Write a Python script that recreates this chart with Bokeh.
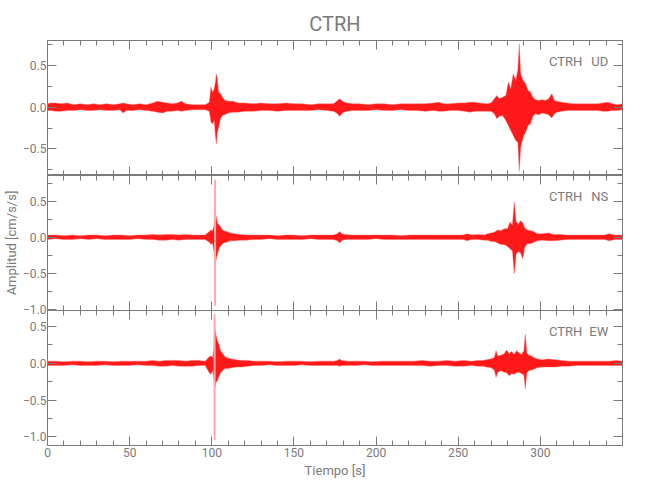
from bokeh.plotting import figure
from bokeh.layouts import column
from bokeh.models import LinearAxis, FixedTicker, Label, Range1d, ColumnDataSource
from bokeh.embed import file_html
from bokeh.resources import INLINE

# ---------------- data (envelopes) ----------------
# rows: (time [s], upper envelope, lower envelope)  amplitude in cm/s/s
ud_rows = [
    (0, 0.04, -0.04), (2, 0.05, -0.04), (5, 0.05, -0.05), (8, 0.04, -0.05), (12, 0.05, -0.04),
    (16, 0.03, -0.04), (20, 0.04, -0.03), (24, 0.03, -0.04), (28, 0.04, -0.04), (32, 0.03, -0.03),
    (36, 0.04, -0.04), (40, 0.03, -0.04), (44, 0.04, -0.03), (46, 0.05, -0.07), (48, 0.04, -0.04),
    (52, 0.03, -0.04), (56, 0.04, -0.03), (60, 0.03, -0.04), (64, 0.05, -0.05), (67, 0.07, -0.06),
    (70, 0.06, -0.07), (73, 0.05, -0.05), (76, 0.04, -0.05), (79, 0.05, -0.04), (81.5, 0.07, -0.05),
    (84, 0.04, -0.04), (88, 0.03, -0.03), (92, 0.03, -0.03), (96, 0.03, -0.03), (98.5, 0.06, -0.05),
    (99.5, 0.24, -0.18), (100.5, 0.18, -0.20), (101.5, 0.22, -0.16), (102.2, 0.30, -0.34),
    (102.8, 0.40, -0.44), (103.4, 0.33, -0.30), (104.2, 0.18, -0.24), (105.2, 0.16, -0.14),
    (106.5, 0.12, -0.10), (108, 0.08, -0.09), (110, 0.07, -0.07), (113, 0.07, -0.06),
    (116, 0.05, -0.06), (120, 0.05, -0.05), (125, 0.04, -0.05), (130, 0.05, -0.04),
    (135, 0.04, -0.04), (140, 0.04, -0.05), (145, 0.05, -0.04), (150, 0.04, -0.04),
    (155, 0.04, -0.04), (160, 0.03, -0.04), (165, 0.04, -0.03), (170, 0.04, -0.04),
    (174, 0.04, -0.05), (176, 0.07, -0.07), (177.8, 0.10, -0.11), (179.5, 0.07, -0.07),
    (182, 0.05, -0.05), (186, 0.04, -0.04), (190, 0.04, -0.04), (195, 0.03, -0.04),
    (200, 0.04, -0.03), (205, 0.04, -0.04), (210, 0.03, -0.04), (215, 0.04, -0.03),
    (220, 0.04, -0.04), (225, 0.04, -0.04), (230, 0.04, -0.05), (235, 0.05, -0.04),
    (238, 0.06, -0.05), (241, 0.04, -0.05), (245, 0.04, -0.04), (250, 0.05, -0.04),
    (254, 0.05, -0.05), (257, 0.06, -0.06), (260, 0.06, -0.05), (263, 0.05, -0.05),
    (267, 0.04, -0.05), (270, 0.05, -0.05), (272, 0.10, -0.08), (273.5, 0.14, -0.14),
    (275, 0.10, -0.11), (277, 0.12, -0.10), (279, 0.14, -0.16), (280.5, 0.30, -0.22),
    (282, 0.22, -0.28), (283.5, 0.40, -0.34), (285, 0.32, -0.40), (286.3, 0.45, -0.42),
    (287.2, 0.76, -0.77), (288, 0.40, -0.48), (289.5, 0.32, -0.36), (291, 0.28, -0.30),
    (292.5, 0.20, -0.22), (294, 0.18, -0.20), (295.5, 0.12, -0.11), (297, 0.09, -0.08),
    (299, 0.08, -0.09), (301, 0.09, -0.07), (303, 0.08, -0.08), (305, 0.10, -0.09),
    (307, 0.16, -0.13), (308.5, 0.08, -0.08), (310, 0.07, -0.06), (313, 0.06, -0.05),
    (316, 0.05, -0.04), (320, 0.04, -0.04), (325, 0.04, -0.04), (330, 0.04, -0.04),
    (335, 0.04, -0.04), (338, 0.05, -0.05), (341, 0.06, -0.05), (344, 0.04, -0.04),
    (347, 0.03, -0.04), (350, 0.04, -0.03),
]

ns_rows = [
    (0, 0.03, -0.03), (5, 0.03, -0.02), (10, 0.02, -0.03), (15, 0.03, -0.03), (20, 0.02, -0.02),
    (25, 0.03, -0.03), (30, 0.03, -0.02), (35, 0.02, -0.03), (40, 0.03, -0.03), (45, 0.03, -0.03),
    (50, 0.02, -0.03), (55, 0.03, -0.02), (60, 0.03, -0.03), (64, 0.04, -0.03), (68, 0.03, -0.04),
    (72, 0.04, -0.04), (76, 0.04, -0.03), (80, 0.03, -0.04), (84, 0.04, -0.03), (88, 0.03, -0.03),
    (92, 0.03, -0.03), (96, 0.03, -0.03), (98.5, 0.08, -0.07), (99.5, 0.10, -0.10),
    (100.5, 0.09, -0.08), (101.3, 0.16, -0.20), (102.0, 0.37, -0.37), (102.7, 0.28, -0.30),
    (103.5, 0.19, -0.23), (104.5, 0.17, -0.15), (105.5, 0.14, -0.12), (107, 0.09, -0.08),
    (109, 0.08, -0.07), (111, 0.06, -0.05), (114, 0.05, -0.05), (117, 0.04, -0.04),
    (121, 0.03, -0.04), (125, 0.03, -0.03), (130, 0.03, -0.03), (135, 0.03, -0.02),
    (140, 0.02, -0.03), (145, 0.03, -0.03), (150, 0.03, -0.03), (155, 0.02, -0.03),
    (160, 0.03, -0.02), (165, 0.03, -0.03), (170, 0.03, -0.03), (174, 0.03, -0.03),
    (176.5, 0.05, -0.05), (177.8, 0.08, -0.08), (179, 0.05, -0.05), (181, 0.04, -0.03),
    (185, 0.03, -0.03), (190, 0.03, -0.03), (195, 0.03, -0.03), (200, 0.03, -0.02),
    (205, 0.03, -0.03), (210, 0.03, -0.03), (215, 0.02, -0.03), (220, 0.03, -0.03),
    (225, 0.03, -0.03), (230, 0.03, -0.03), (235, 0.03, -0.03), (240, 0.03, -0.03),
    (245, 0.03, -0.03), (250, 0.03, -0.03), (253, 0.03, -0.03), (255.5, 0.05, -0.05),
    (258, 0.03, -0.03), (262, 0.04, -0.03), (266, 0.03, -0.04), (268, 0.05, -0.04),
    (270, 0.06, -0.06), (272, 0.07, -0.06), (274, 0.10, -0.08), (276, 0.09, -0.10),
    (278, 0.12, -0.10), (280, 0.12, -0.13), (281.5, 0.21, -0.16), (283, 0.17, -0.19),
    (284.1, 0.49, -0.51), (285.2, 0.22, -0.24), (286.5, 0.18, -0.20), (288, 0.23, -0.22),
    (289.3, 0.20, -0.30), (290.5, 0.13, -0.14), (292, 0.10, -0.09), (294, 0.09, -0.09),
    (296, 0.08, -0.07), (298, 0.05, -0.05), (301, 0.05, -0.04), (305, 0.06, -0.05),
    (308, 0.04, -0.05), (312, 0.04, -0.04), (316, 0.03, -0.03), (320, 0.03, -0.03),
    (325, 0.03, -0.03), (330, 0.03, -0.03), (335, 0.03, -0.03), (339, 0.03, -0.03),
    (342, 0.05, -0.05), (345, 0.03, -0.03), (350, 0.03, -0.03),
]

ew_rows = [
    (0, 0.03, -0.03), (5, 0.03, -0.03), (10, 0.02, -0.03), (15, 0.03, -0.02), (20, 0.03, -0.03),
    (25, 0.02, -0.03), (30, 0.03, -0.03), (35, 0.03, -0.02), (40, 0.02, -0.03), (45, 0.03, -0.03),
    (50, 0.03, -0.03), (55, 0.03, -0.02), (60, 0.03, -0.03), (64, 0.04, -0.03), (68, 0.03, -0.04),
    (72, 0.04, -0.04), (76, 0.04, -0.03), (80, 0.04, -0.04), (84, 0.03, -0.04), (88, 0.04, -0.04),
    (92, 0.04, -0.03), (96, 0.03, -0.03), (98.5, 0.09, -0.13), (99.5, 0.10, -0.15),
    (100.5, 0.08, -0.10), (101.2, 0.20, -0.20), (101.8, 0.49, -0.35), (102.5, 0.40, -0.26),
    (103.3, 0.31, -0.24), (104.3, 0.26, -0.18), (105.3, 0.17, -0.13), (106.5, 0.14, -0.10),
    (108, 0.09, -0.07), (110, 0.07, -0.07), (112, 0.06, -0.06), (115, 0.05, -0.05),
    (118, 0.04, -0.05), (122, 0.04, -0.04), (126, 0.03, -0.03), (130, 0.03, -0.03),
    (135, 0.03, -0.02), (140, 0.02, -0.03), (145, 0.03, -0.03), (150, 0.03, -0.03),
    (155, 0.03, -0.02), (160, 0.02, -0.03), (165, 0.03, -0.03), (170, 0.03, -0.03),
    (174, 0.03, -0.03), (176.5, 0.04, -0.03), (177.8, 0.06, -0.04), (179, 0.04, -0.03),
    (183, 0.03, -0.03), (188, 0.03, -0.03), (193, 0.03, -0.02), (198, 0.02, -0.03),
    (203, 0.03, -0.03), (208, 0.03, -0.03), (213, 0.03, -0.03), (218, 0.03, -0.03),
    (223, 0.03, -0.03), (228, 0.04, -0.03), (233, 0.03, -0.04), (238, 0.03, -0.03),
    (243, 0.04, -0.03), (248, 0.03, -0.04), (253, 0.04, -0.04), (258, 0.03, -0.03),
    (262, 0.04, -0.04), (265, 0.04, -0.04), (267, 0.05, -0.05), (270, 0.06, -0.06),
    (272, 0.08, -0.09), (273, 0.17, -0.19), (274, 0.10, -0.12), (276, 0.11, -0.10),
    (278, 0.13, -0.12), (279.5, 0.18, -0.13), (281, 0.13, -0.17), (282.5, 0.16, -0.14),
    (284, 0.12, -0.15), (285.5, 0.17, -0.13), (287, 0.14, -0.12), (288.5, 0.12, -0.14),
    (290, 0.17, -0.16), (290.8, 0.40, -0.35), (291.8, 0.14, -0.13), (293, 0.11, -0.10),
    (294.5, 0.10, -0.09), (296, 0.08, -0.08), (298, 0.06, -0.06), (301, 0.05, -0.05),
    (305, 0.06, -0.05), (309, 0.05, -0.05), (313, 0.04, -0.04), (317, 0.03, -0.04),
    (322, 0.03, -0.03), (327, 0.03, -0.03), (332, 0.03, -0.03), (337, 0.03, -0.03),
    (342, 0.03, -0.03), (346, 0.04, -0.03), (350, 0.03, -0.03),
]

# thin isolated peaks (lightly drawn in the picture): (time, max, min)
ns_spikes = [(102.0, 0.80, -0.95)]
ew_spikes = [(101.7, 0.67, -1.05)]

station = "CTRH"
components = ["UD", "NS", "EW"]
y_ranges = [(-0.82, 0.80), (-1.02, 0.86), (-1.12, 0.72)]
y_major = [[-0.5, 0.0, 0.5], [-1.0, -0.5, 0.0, 0.5], [-1.0, -0.5, 0.0, 0.5]]
y_minor = [[-0.75, -0.25, 0.25, 0.75], [-0.75, -0.25, 0.25, 0.75], [-0.75, -0.25, 0.25]]
y_labels = {0.5: "0.5", 0.0: "0.0", -0.5: "\u22120.5", -1.0: "\u22121.0"}
x_major = [0, 50, 100, 150, 200, 250, 300]
x_minor = list(range(0, 351, 10))
x_labels = {v: str(v) for v in x_major}
comp_label_y = [0.55, 0.57, 0.43]

# ---------------- styling ----------------
GRAY = "#7a7a7a"
FONT = "Roboto"
RED = "#ff0000"
AX_LABEL = "Amplitud [cm/s/s]"
OVERLAP = 7   # px that panel 2's canvas reaches under panel 3 (room for its lowest label)


def style_axis(ax, ticks, minor, show_labels, overrides=None):
    ax.ticker = FixedTicker(ticks=ticks, minor_ticks=minor)
    ax.axis_line_color = GRAY
    ax.major_tick_line_color = GRAY
    ax.minor_tick_line_color = GRAY
    ax.major_tick_in = 9
    ax.major_tick_out = 0
    ax.minor_tick_in = 5
    ax.minor_tick_out = 0
    if show_labels:
        ax.major_label_text_font = FONT
        ax.major_label_text_font_size = "12px"
        ax.major_label_text_color = GRAY
        ax.major_label_standoff = 1
        if overrides:
            ax.major_label_overrides = overrides
    else:
        ax.major_label_text_font_size = "0px"
        ax.major_label_text_color = None
        ax.major_label_standoff = 0


def make_panel(i, rows, spikes):
    first = i == 0
    last = i == 2
    p = figure(
        frame_width=575, frame_height=135,
        x_range=Range1d(0, 350), y_range=Range1d(*y_ranges[i]),
        x_axis_type=None, y_axis_type=None,
        output_backend="svg", toolbar_location=None,
        min_border_left=40, min_border_right=11,
        min_border_top=40 if first else 0,
        min_border_bottom=40 if last else (OVERLAP if i == 1 else 0),
        title=station if first else None,
        background_fill_color="white",
        border_fill_color=None if last else "white",
    )
    p.outline_line_color = GRAY
    if first:
        p.title.align = "center"
        p.title.text_font = FONT
        p.title.text_font_size = "20px"
        p.title.text_font_style = "normal"
        p.title.text_color = GRAY
        p.title.standoff = 9
    if last:
        p.styles = {"margin-top": f"-{OVERLAP}px"}

    # axes on all four sides, ticks pointing inward
    left = LinearAxis()
    style_axis(left, y_major[i], y_minor[i], True, {k: v for k, v in y_labels.items() if k in y_major[i]})
    left.axis_label = AX_LABEL
    left.axis_label_text_font = FONT
    left.axis_label_text_font_size = "13px"
    left.axis_label_text_font_style = "normal"
    left.axis_label_text_color = GRAY if i == 1 else None
    left.axis_label_standoff = 1
    p.add_layout(left, "left")

    right = LinearAxis()
    style_axis(right, y_major[i], y_minor[i], False)
    p.add_layout(right, "right")

    top = LinearAxis()
    style_axis(top, x_major, x_minor, False)
    p.add_layout(top, "above")

    bottom = LinearAxis()
    if last:
        style_axis(bottom, x_major, x_minor, True, x_labels)
        bottom.major_label_standoff = 2
        bottom.axis_label = "Tiempo [s]"
        bottom.axis_label_text_font = FONT
        bottom.axis_label_text_font_size = "13px"
        bottom.axis_label_text_font_style = "normal"
        bottom.axis_label_text_color = GRAY
        bottom.axis_label_standoff = 3
    else:
        style_axis(bottom, x_major, x_minor, False)
    p.add_layout(bottom, "below")

    src = ColumnDataSource(dict(
        t=[r[0] for r in rows], hi=[r[1] for r in rows], lo=[r[2] for r in rows]))
    p.varea(x="t", y1="lo", y2="hi", source=src, fill_color=RED, fill_alpha=0.9)
    p.line(x="t", y="hi", source=src, line_color="#ff6060", line_width=1, line_alpha=0.4)
    p.line(x="t", y="lo", source=src, line_color="#ff6060", line_width=1, line_alpha=0.4)
    if spikes:
        ssrc = ColumnDataSource(dict(
            t=[s[0] for s in spikes], hi=[s[1] for s in spikes], lo=[s[2] for s in spikes]))
        p.segment(x0="t", y0="lo", x1="t", y1="hi", source=ssrc,
                  line_color="#ffaaaa", line_width=2)

    p.add_layout(Label(x=325.5, y=comp_label_y[i], text=station, text_align="right",
                       text_baseline="middle", text_font=FONT, text_font_size="13px",
                       text_color=GRAY))
    p.add_layout(Label(x=341.3, y=comp_label_y[i], text=components[i], text_align="right",
                       text_baseline="middle", text_font=FONT, text_font_size="13px",
                       text_color=GRAY))
    return p


p1 = make_panel(0, ud_rows, [])
p2 = make_panel(1, ns_rows, ns_spikes)
p3 = make_panel(2, ew_rows, ew_spikes)

layout = column(p1, p2, p3, spacing=0)
open("out.html", "w").write(file_html(layout, INLINE))
